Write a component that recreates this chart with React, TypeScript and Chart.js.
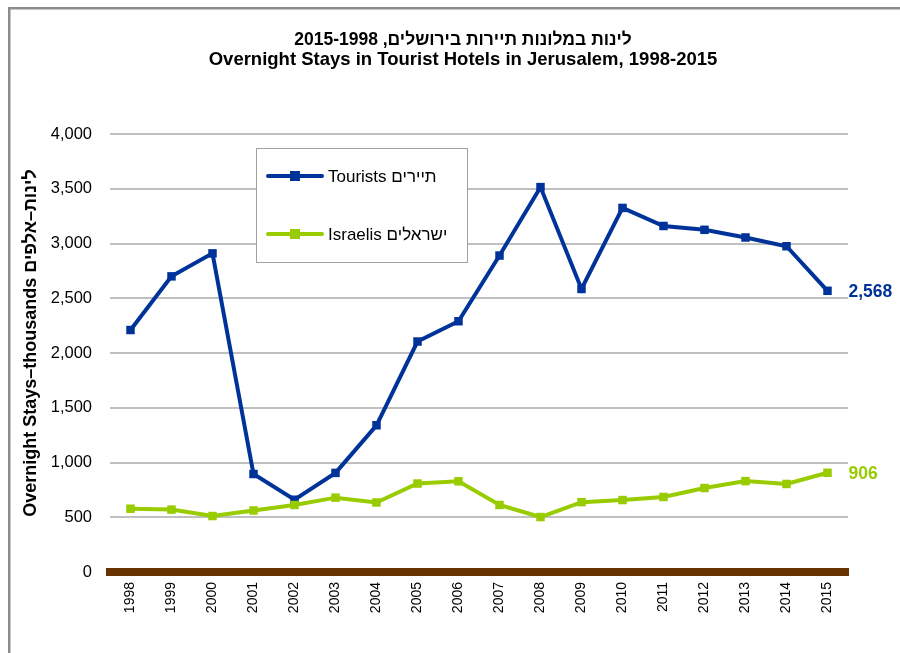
import React, { useEffect, useRef } from "react";
import { Chart, registerables } from "chart.js";

Chart.register(...registerables);

const years = ["1998","1999","2000","2001","2002","2003","2004","2005","2006","2007","2008","2009","2010","2011","2012","2013","2014","2015"];
const tourists = [2210, 2700, 2910, 895, 660, 905, 1340, 2105, 2290, 2890, 3515, 2585, 3325, 3160, 3125, 3055, 2975, 2568];
const israelis = [578, 570, 511, 562, 612, 679, 635, 808, 828, 612, 502, 638, 657, 685, 767, 830, 804, 906];
const touristsLabel = "Tourists תיירים";
const israelisLabel = "Israelis ישראלים";
const titleHe = "לינות במלונות תיירות בירושלים, 2015-1998";
const titleEn = "Overnight Stays in Tourist Hotels in Jerusalem, 1998-2015";
const yTitle = "Overnight Stays–thousands לינות–אלפים";
const blue = "#003399";
const green = "#99CC00";
const FONT = "'Liberation Sans', Arial, sans-serif";

const framePlugin = {
  id: "frame",
  beforeDraw(chart: any) {
    const ctx = chart.ctx;
    ctx.save();
    ctx.fillStyle = "#ffffff";
    ctx.fillRect(0, 0, chart.width, chart.height);
    ctx.fillStyle = "#8c8c8c";
    ctx.fillRect(8, 7, chart.width - 8, 2.5);
    ctx.fillRect(8, 7, 2.5, chart.height - 7);
    ctx.restore();
  },
  afterDraw(chart: any) {
    const ctx = chart.ctx;
    ctx.save();
    ctx.fillStyle = "#000";
    ctx.textAlign = "center";
    ctx.textBaseline = "middle";
    ctx.font = `bold 17.5px ${FONT}`;
    ctx.fillText(titleHe, 463, 40);
    ctx.font = `bold 18.5px ${FONT}`;
    ctx.fillText(titleEn, 463, 60);
    ctx.translate(31, 343);
    ctx.rotate(-Math.PI / 2);
    ctx.font = `bold 18px ${FONT}`;
    ctx.fillText(yTitle, 0, 0);
    ctx.restore();
  },
};

const endLabelPlugin = {
  id: "endLabels",
  afterDatasetsDraw(chart: any) {
    const ctx = chart.ctx;
    ctx.save();
    ctx.font = `bold 17.5px ${FONT}`;
    ctx.textAlign = "left";
    ctx.textBaseline = "middle";
    chart.data.datasets.forEach((ds: any, i: number) => {
      const meta = chart.getDatasetMeta(i);
      const last = meta.data[meta.data.length - 1];
      const v = ds.data[ds.data.length - 1];
      ctx.fillStyle = ds.borderColor;
      ctx.fillText(v.toLocaleString("en-US"), last.x + 21, last.y + 1);
    });
    ctx.restore();
  },
};

const legendPlugin = {
  id: "boxLegend",
  afterDraw(chart: any) {
    const ctx = chart.ctx;
    const x = 256.5, y = 148.5, w = 211, h = 114;
    ctx.save();
    ctx.fillStyle = "#ffffff";
    ctx.fillRect(x, y, w, h);
    ctx.strokeStyle = "#a0a0a0";
    ctx.lineWidth = 1;
    ctx.strokeRect(x, y, w, h);
    const rows = [176, 234];
    chart.data.datasets.forEach((ds: any, i: number) => {
      const ry = rows[i];
      ctx.strokeStyle = ds.borderColor;
      ctx.lineWidth = 4;
      ctx.lineCap = "round";
      ctx.beginPath();
      ctx.moveTo(268, ry);
      ctx.lineTo(322, ry);
      ctx.stroke();
      ctx.fillStyle = ds.borderColor;
      ctx.fillRect(290, ry - 5, 10, 10);
      ctx.fillStyle = "#000";
      ctx.font = `17px ${FONT}`;
      ctx.textAlign = "left";
      ctx.textBaseline = "middle";
      ctx.fillText(ds.label, 328, ry + 1);
    });
    ctx.restore();
  },
};

export default function App() {
  const ref = useRef<HTMLCanvasElement>(null);
  useEffect(() => {
    if (!ref.current) return;
    const chart = new Chart(ref.current, {
      type: "line",
      data: {
        labels: years,
        datasets: [
          {
            label: touristsLabel,
            data: tourists,
            borderColor: blue,
            backgroundColor: blue,
            borderWidth: 4,
            pointStyle: "rect",
            pointRadius: 6,
            pointBorderWidth: 0,
            tension: 0,
            order: 1,
          },
          {
            label: israelisLabel,
            data: israelis,
            borderColor: green,
            backgroundColor: green,
            borderWidth: 4,
            pointStyle: "rect",
            pointRadius: 6,
            pointBorderWidth: 0,
            tension: 0,
            order: 0,
          },
        ],
      },
      options: {
        animation: false,
        responsive: false,
        events: [],
        layout: { padding: { left: 0, right: 52, top: 134, bottom: 0 } },
        plugins: {
          legend: { display: false },
          tooltip: { enabled: false },
          title: { display: false },
        },
        scales: {
          x: {
            offset: true,
            grid: { display: false, drawTicks: false },
            border: { display: true, color: "#663300", width: 8 },
            ticks: {
              color: "#000",
              font: { family: FONT, size: 14 },
              minRotation: 90,
              maxRotation: 90,
              padding: 10,
              autoSkip: false,
            },
            afterFit: (s: any) => { s.height = 81; },
          },
          y: {
            min: 0,
            max: 4000,
            ticks: {
              stepSize: 500,
              color: "#000",
              font: { family: FONT, size: 16.5 },
              padding: 18,
            },
            grid: {
              drawTicks: false,
              lineWidth: 2,
              color: (c: any) => (c.tick && c.tick.value === 0 ? "rgba(0,0,0,0)" : "#c0c0c0"),
            },
            border: { display: false },
            title: { display: false },
            afterFit: (s: any) => { s.width = 110; },
          },
        },
      },
      plugins: [framePlugin, endLabelPlugin, legendPlugin],
    } as any);
    return () => chart.destroy();
  }, []);
  return (
    <div style={{ position: "fixed", left: 0, top: 0, width: 900, height: 653, background: "#fff" }}>
      <canvas ref={ref} width={900} height={653} style={{ display: "block", width: 900, height: 653 }} />
    </div>
  );
}
